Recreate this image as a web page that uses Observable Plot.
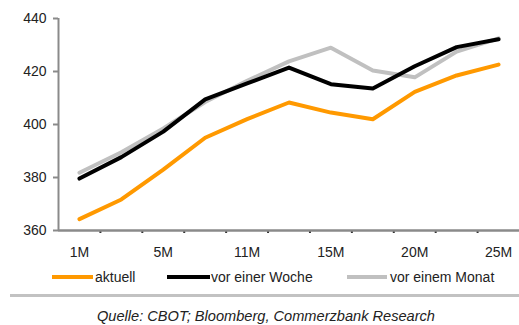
<!DOCTYPE html>
<html>
<head>
<meta charset="utf-8">
<script src="https://cdn.jsdelivr.net/npm/d3@7"></script>
<script src="https://cdn.jsdelivr.net/npm/@observablehq/plot@0.6"></script>
<style>
  html, body { margin: 0; padding: 0; background: #fff; }
  #wrap { position: relative; width: 519px; height: 325px; font-family: "Liberation Sans", Arial, sans-serif; color: #222; overflow: hidden; }
  #chart { position: absolute; left: 0; top: 0; }
  .sw { position: absolute; height: 4px; }
  .lt { position: absolute; font-size: 14px; line-height: 16px; white-space: nowrap; }
  #sep { position: absolute; left: 10px; top: 294px; width: 509px; height: 3px; background: #c2c2c2; }
  #cap { position: absolute; left: 97px; top: 308px; font-size: 14.6px; font-style: italic; line-height: 16px; white-space: nowrap; }
</style>
</head>
<body>
<div id="wrap">
  <div id="chart"></div>
  <div id="legend"></div>
  <div id="sep"></div>
  <div id="cap">Quelle: CBOT; Bloomberg, Commerzbank Research</div>
</div>
<script>
// Contract months on the curve (only every second one is labelled)
const tickLabels = ["1M", "", "5M", "", "11M", "", "15M", "", "20M", "", "25M"];
const yTicks = [360, 380, 400, 420, 440];

// Forward curve, US cents per bushel
const aktuell = [364.3, 371.7, 383.0, 395.0, 402.0, 408.3, 404.5, 402.0, 412.3, 418.5, 422.6];
const vorEinerWoche = [379.6, 387.7, 397.3, 409.5, 415.5, 421.5, 415.2, 413.6, 422.0, 429.2, 432.2];
const vorEinemMonat = [381.8, 389.5, 398.5, 408.5, 416.5, 423.8, 429.0, 420.4, 417.8, 427.5, 432.5];

const seriesNames = ["aktuell", "vor einer Woche", "vor einem Monat"];
const seriesColors = ["#ff9900", "#000000", "#c0c0c0"];
const seriesValues = [aktuell, vorEinerWoche, vorEinemMonat];

const rows = seriesValues.flatMap((vals, s) =>
  vals.map((v, i) => ({ series: seriesNames[s], i, v }))
);

const axisGray = "#8a8a8a";
const drawOrder = [2, 1, 0];

const chart = Plot.plot({
  width: 519,
  height: 262,
  marginLeft: 58,
  marginRight: 0,
  marginTop: 18,
  marginBottom: 32,
  x: { domain: [-0.5, tickLabels.length - 0.5], axis: null },
  y: { domain: [360, 440], axis: null },
  style: { fontFamily: "Liberation Sans, Arial, sans-serif", fontSize: "14px", color: "#222", background: "transparent", overflow: "visible" },
  marks: [
    Plot.axisY({ ticks: yTicks, tickSize: 5, tickPadding: 7, stroke: axisGray, strokeWidth: 2, tickFormat: d => d, label: null }),
    Plot.axisX({ ticks: d3.range(tickLabels.length), tickSize: 0, tickPadding: 17, tickFormat: i => tickLabels[i], label: null }),
    Plot.axisX({ ticks: d3.range(0.5, tickLabels.length - 1, 1), tickSize: 3, strokeWidth: 2, stroke: "#333", tickFormat: () => "", label: null }),
    Plot.ruleX([-0.5], { stroke: axisGray, strokeWidth: 2 }),
    Plot.ruleY([360], { stroke: axisGray, strokeWidth: 2.5 }),
    ...drawOrder.map(s =>
      Plot.line(rows.filter(d => d.series === seriesNames[s]), {
        x: "i", y: "v", stroke: seriesColors[s], strokeWidth: 4, strokeLinejoin: "round", strokeLinecap: "round"
      })
    )
  ]
});
document.getElementById("chart").appendChild(chart);

// Legend below the plot
const legendPos = [
  { sw: 52, swW: 41, tx: 95 },
  { sw: 167, swW: 43, tx: 211 },
  { sw: 347, swW: 40, tx: 390 }
];
const legend = document.getElementById("legend");
seriesNames.forEach((name, s) => {
  const sw = document.createElement("div");
  sw.className = "sw";
  sw.style.left = legendPos[s].sw + "px";
  sw.style.width = legendPos[s].swW + "px";
  sw.style.top = "275px";
  sw.style.background = seriesColors[s];
  legend.appendChild(sw);
  const t = document.createElement("div");
  t.className = "lt";
  t.style.left = legendPos[s].tx + "px";
  t.style.top = "269px";
  t.textContent = name;
  legend.appendChild(t);
});
</script>
</body>
</html>
